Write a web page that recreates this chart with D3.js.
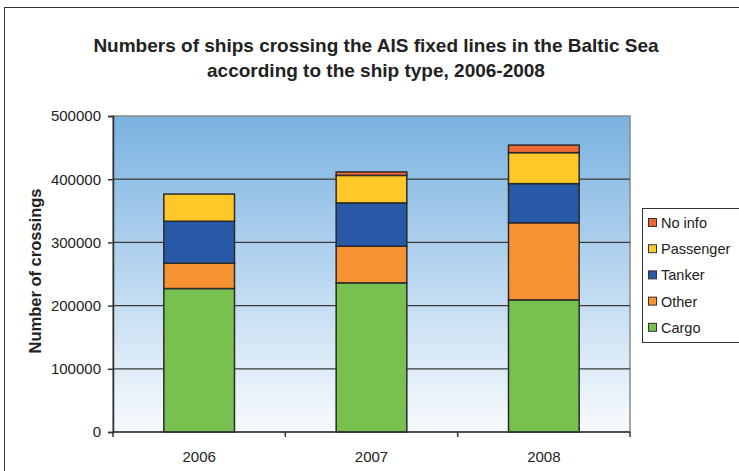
<!DOCTYPE html>
<html>
<head>
<meta charset="utf-8">
<script src="https://cdn.jsdelivr.net/npm/d3@7"></script>
<style>
  body { margin: 0; background: #fff; }
  text { font-family: "Liberation Sans", Arial, sans-serif; fill: #222; }
</style>
</head>
<body>
<svg id="chart" width="739" height="471"></svg>
<script>
// data
var years = ['2006', '2007', '2008'];
var types = ['Cargo', 'Other', 'Tanker', 'Passenger', 'No info'];
var cargo     = [227000, 236000, 209000];
var other     = [40000, 58000, 122000];
var tanker    = [66500, 68500, 62000];
var passenger = [43000, 43500, 49000];
var noInfo    = [0, 5500, 12000];
var yTicks = [0, 100000, 200000, 300000, 400000, 500000];

var colors = {
  'Cargo': '#78c150',
  'Other': '#f79233',
  'Tanker': '#2859a6',
  'Passenger': '#fec829',
  'No info': '#ef6637'
};

var rows = years.map(function(y, i) {
  return { year: y, 'Cargo': cargo[i], 'Other': other[i], 'Tanker': tanker[i],
           'Passenger': passenger[i], 'No info': noInfo[i] };
});

var svg = d3.select('#chart');
var plotLeft = 113, plotRight = 630, plotTop = 116, plotBottom = 432;

// outer chart frame
svg.append('rect')
  .attr('x', 4.5).attr('y', 7.5)
  .attr('width', 800).attr('height', 500)
  .attr('fill', 'none').attr('stroke', '#333').attr('stroke-width', 1);

// title
svg.append('text')
  .attr('x', 376).attr('y', 52)
  .attr('text-anchor', 'middle')
  .style('font-weight', 'bold').style('font-size', '19px')
  .text('Numbers of ships crossing the AIS fixed lines in the Baltic Sea');
svg.append('text')
  .attr('x', 376).attr('y', 77)
  .attr('text-anchor', 'middle')
  .style('font-weight', 'bold').style('font-size', '19px')
  .text('according to the ship type, 2006-2008');

var x = d3.scaleBand().domain(years).range([plotLeft, plotRight]).paddingInner(0.59).paddingOuter(0.295);
var y = d3.scaleLinear().domain([0, 500000]).range([plotBottom, plotTop]);

// plot background gradient
var grad = svg.append('defs').append('linearGradient')
  .attr('id', 'bg').attr('x1', 0).attr('y1', 0).attr('x2', 0).attr('y2', 1);
grad.append('stop').attr('offset', '0%').attr('stop-color', '#7ab2e1');
grad.append('stop').attr('offset', '100%').attr('stop-color', '#f8fbfe');

svg.append('rect')
  .attr('x', plotLeft).attr('y', plotTop)
  .attr('width', plotRight - plotLeft).attr('height', plotBottom - plotTop)
  .attr('fill', 'url(#bg)').attr('stroke', '#8a8a8a').attr('stroke-width', 1.5);

// gridlines
svg.append('g').selectAll('line')
  .data(yTicks.filter(function(d) { return d > 0 && d < 500000; }))
  .enter().append('line')
  .attr('x1', plotLeft).attr('x2', plotRight)
  .attr('y1', function(d) { return y(d); }).attr('y2', function(d) { return y(d); })
  .attr('stroke', '#3a3a3a').attr('stroke-width', 1.2);

// stacked bars
var series = d3.stack().keys(types)(rows);
svg.append('g').selectAll('g')
  .data(series)
  .enter().append('g')
  .attr('fill', function(d) { return colors[d.key]; })
  .selectAll('rect')
  .data(function(d) { return d.filter(function(p) { return p[1] - p[0] > 0; }); })
  .enter().append('rect')
  .attr('x', function(d) { return x(d.data.year); })
  .attr('width', x.bandwidth())
  .attr('y', function(d) { return y(d[1]); })
  .attr('height', function(d) { return y(d[0]) - y(d[1]); })
  .attr('stroke', '#2b2b2b').attr('stroke-width', 1.5);

// y axis
var yAxis = svg.append('g')
  .attr('transform', 'translate(' + plotLeft + ',0)')
  .call(d3.axisLeft(y).tickValues(yTicks).tickSize(5).tickPadding(7).tickFormat(d3.format('d')));
yAxis.selectAll('text').style('font-size', '15px').style('font-family', '"Liberation Sans", Arial, sans-serif').attr('fill', '#222');
yAxis.selectAll('line, path').attr('stroke', '#333').attr('stroke-width', 1.5);

// x axis: ticks at category boundaries
var xAxisG = svg.append('g');
xAxisG.append('line')
  .attr('x1', plotLeft).attr('x2', plotRight)
  .attr('y1', plotBottom).attr('y2', plotBottom)
  .attr('stroke', '#333').attr('stroke-width', 1.5);
var step = (plotRight - plotLeft) / years.length;
xAxisG.selectAll('line.tk')
  .data(d3.range(years.length + 1))
  .enter().append('line')
  .attr('class', 'tk')
  .attr('x1', function(i) { return plotLeft + i * step; })
  .attr('x2', function(i) { return plotLeft + i * step; })
  .attr('y1', plotBottom).attr('y2', plotBottom + 5)
  .attr('stroke', '#333').attr('stroke-width', 1.5);
xAxisG.selectAll('text')
  .data(years)
  .enter().append('text')
  .attr('x', function(d) { return x(d) + x.bandwidth() / 2; })
  .attr('y', plotBottom + 30)
  .attr('text-anchor', 'middle')
  .style('font-size', '15px')
  .text(function(d) { return d; });

// y axis title
svg.append('text')
  .attr('transform', 'translate(41,' + 271 + ') rotate(-90)')
  .attr('text-anchor', 'middle')
  .style('font-weight', 'bold').style('font-size', '16.5px')
  .text('Number of crossings');

// legend
var legend = svg.append('g');
legend.append('rect')
  .attr('x', 642.5).attr('y', 208.5)
  .attr('width', 120).attr('height', 134)
  .attr('fill', '#fff').attr('stroke', '#333').attr('stroke-width', 1);
var legendOrder = types.slice().reverse();
var item = legend.selectAll('g.item')
  .data(legendOrder)
  .enter().append('g')
  .attr('class', 'item')
  .attr('transform', function(d, i) { return 'translate(0,' + (223 + i * 26.2) + ')'; });
item.append('rect')
  .attr('x', 648.5).attr('y', -4.5)
  .attr('width', 8).attr('height', 8)
  .attr('fill', function(d) { return colors[d]; })
  .attr('stroke', '#333').attr('stroke-width', 1);
item.append('text')
  .attr('x', 661).attr('y', 5)
  .style('font-size', '14.5px')
  .text(function(d) { return d; });
</script>
</body>
</html>
